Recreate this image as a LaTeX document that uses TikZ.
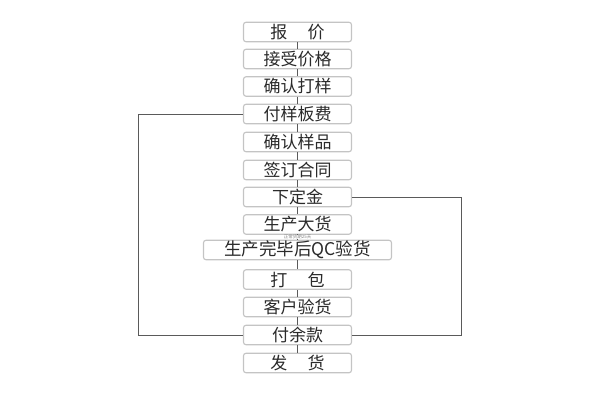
\documentclass[tikz,border=0pt]{standalone}
\usepackage{fontspec}
\setmainfont{Noto Sans CJK SC}
\definecolor{boxline}{HTML}{C4C4C4}
\definecolor{txt}{HTML}{2A2A2A}
\definecolor{conn}{HTML}{5A5A5A}
\begin{document}
\begin{tikzpicture}[x=1pt,y=-1pt,
  stepbox/.style={draw=boxline,line width=1.1pt,rounded corners=2.5pt,fill=white,
    minimum width=108pt,minimum height=19.5pt,inner sep=0pt,text=txt,
    font=\fontsize{17}{17}\selectfont},
  widebox/.style={stepbox,minimum width=188pt},
  link/.style={draw=conn,line width=1pt}]
\useasboundingbox (0,0) rectangle (600,400);
\node[stepbox] (n1) at (297.5,32) {报\hspace{1.2em}价};
\node[stepbox] (n2) at (297.5,59) {接受价格};
\node[stepbox] (n3) at (297.5,86.5) {确认打样};
\node[stepbox] (n4) at (297.5,114) {付样板费};
\node[stepbox] (n5) at (297.5,142) {确认样品};
\node[stepbox] (n6) at (297.5,170) {签订合同};
\node[stepbox] (n7) at (297.5,197) {下定金};
\node[stepbox] (n8) at (297.5,224.5) {生产大货};
\node[widebox,font=\fontsize{17.5}{18}\selectfont] (n9) at (297.5,250) {生产完毕后QC验货};
\node[stepbox] (n10) at (297.5,279.5) {打\hspace{1.2em}包};
\node[stepbox] (n11) at (297.5,307) {客户验货};
\node[stepbox] (n12) at (297.5,335) {付余款};
\node[stepbox] (n13) at (297.5,363) {发\hspace{1.2em}货};
\node[text=gray,font=\fontsize{4.5}{5}\selectfont,inner sep=0pt] (lab) at (297.5,236.5) {正常货期25天};
\foreach \a/\b in {n1/n2,n2/n3,n3/n4,n4/n5,n5/n6,n6/n7,n7/n8,n9/n10,n10/n11,n11/n12,n12/n13}
  \draw[link] (\a.south) -- (\b.north);
\draw[link] (n8.south) -- (lab.north);
\draw[link] (lab.south) -- (n9.north);
\coordinate (l1) at (138,114);
\coordinate (l2) at (138,335);
\coordinate (r1) at (461,197);
\coordinate (r2) at (461,335);
\draw[link] (n4.west) -- (l1) -- (l2) -- (n12.west);
\draw[link] (n7.east) -- (r1) -- (r2) -- (n12.east);
\end{tikzpicture}
\end{document}
